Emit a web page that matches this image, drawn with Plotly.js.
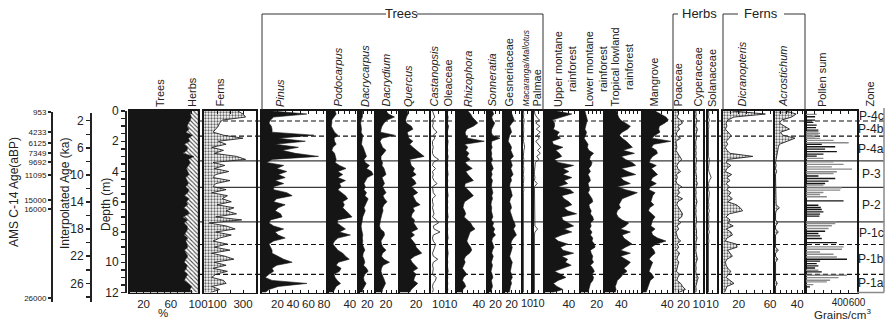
<!DOCTYPE html>
<html>
<head>
<meta charset="utf-8">
<script src="https://cdn.plot.ly/plotly-3.0.1.min.js"></script>
<style>
  html, body { margin: 0; padding: 0; background: #fff; }
  #chart { width: 887px; height: 322px; }
</style>
</head>
<body>
<div id="chart"></div>
<script>
// Sample depths (m) shared by all percentage curves
const depth = [0,0.2,0.4,0.6,0.8,1,1.2,1.4,1.6,1.8,2,2.2,2.4,2.6,2.8,3,3.2,3.4,3.6,3.8,4,4.2,4.4,4.6,4.8,5,5.2,5.4,5.6,5.8,6,6.2,6.4,6.6,6.8,7,7.2,7.4,7.6,7.8,8,8.2,8.4,8.6,8.8,9,9.2,9.4,9.6,9.8,10,10.2,10.4,10.6,10.8,11,11.2,11.4,11.6,11.8,12];

// Pollen groups (%)
const trees = [90,89,90,89,86,84,87,82,92,86,88,80,85,84,78,94,86,89,86,83,85,87,82,84,86,82,87,85,80,87,83,85,79,85,87,78,85,80,84,85,83,80,85,82,84,85,80,83,85,82,80,84,83,80,85,82,80,86,91,88,90];
const herbs = [10,11,10,11,14,16,13,18,8,14,12,20,15,16,22,6,14,11,14,17,15,13,18,16,14,18,13,15,20,13,17,15,21,15,13,22,15,20,16,15,17,20,15,18,16,15,20,17,15,18,20,16,17,20,15,18,20,14,9,12,10];
const ferns = [260,300,320,140,120,110,90,70,150,300,110,170,60,150,80,250,320,70,160,80,190,90,70,200,90,70,170,60,180,140,210,100,230,170,250,90,290,40,170,240,90,210,120,70,180,80,200,60,160,230,80,170,70,180,90,60,150,170,60,120,50];

// Trees
const pinus = [13,58,15,11,9,12,13,13,67,21,56,17,47,26,43,73,13,6,28,19,32,21,30,17,28,15,15,32,39,19,15,30,21,17,24,26,11,9,15,28,17,21,30,15,9,11,13,13,21,28,39,19,13,15,9,4,13,58,21,9,4];
const podocarpus = [13,15,11,7,7,6,9,12,18,11,12,15,9,7,12,13,15,13,21,33,18,27,18,32,21,24,18,25,32,36,27,30,27,33,39,44,18,17,24,32,21,41,18,12,9,13,18,27,32,39,19,15,24,21,11,13,17,23,15,12,9];
const dacrycarpus = [9,9,8,5,4,5,6,5,9,8,7,6,10,13,16,18,12,15,25,18,30,34,20,15,12,15,12,18,14,22,18,14,12,15,11,9,8,6,5,6,7,9,8,9,8,12,14,10,9,12,14,11,18,22,14,11,12,17,13,9,8];
const dacrydium = [20,25,37,22,16,12,10,9,37,12,8,10,13,20,14,10,10,13,12,16,18,20,12,15,17,13,16,20,14,17,22,16,13,14,12,10,9,8,7,9,16,17,13,10,11,14,20,13,11,16,27,14,11,10,12,15,17,19,16,13,12];
const quercus = [9,10,8,7,8,14,16,9,10,11,16,12,16,20,25,30,12,13,14,18,16,20,14,18,20,14,18,22,16,18,20,25,16,18,15,14,18,17,19,22,14,18,13,16,19,20,24,27,18,13,15,18,22,16,20,18,17,22,18,14,12];
const castanopsis = [2,3,5,2,3,2,4,8,3,5,2,2,3,2,2,4,10,3,2,6,2,3,2,4,8,2,2,3,6,2,2,3,2,3,4,2,7,10,3,4,12,3,2,3,6,5,3,2,3,9,3,2,3,2,2,7,6,3,2,3,2];
const oleaceae = [2,1,3,2,1,4,2,1,2,1,3,2,1,2,1,3,2,1,2,1,2,3,1,2,1,2,1,2,3,1,2,1,2,1,2,3,1,2,1,2,1,2,3,1,2,1,2,3,2,1,2,1,2,3,1,2,1,2,1,2,1];
const rhizophora = [20,25,28,33,38,30,18,15,16,20,50,14,20,16,22,18,24,15,20,28,16,20,26,30,15,14,20,26,30,22,14,12,11,14,16,13,20,25,28,33,24,22,20,18,21,25,27,23,16,13,15,13,10,14,18,12,10,14,16,11,9];
const sonneratia = [12,15,10,12,18,14,10,9,12,32,10,9,11,8,10,9,12,8,10,14,9,11,8,12,10,9,11,13,10,12,9,8,10,9,11,13,9,15,12,18,14,20,12,10,13,16,12,10,14,11,9,12,10,8,11,13,9,10,12,9,8];
const gesneriaceae = [18,22,24,27,20,15,18,20,15,12,11,16,20,18,22,25,17,20,22,18,20,24,18,20,16,15,18,20,22,17,15,18,20,16,18,22,24,28,30,25,28,33,25,20,18,22,20,17,15,18,22,20,18,17,20,22,18,20,17,15,14];
const macaranga = [1,2,1,3,2,1,2,1,1,2,1,3,4,2,1,1,2,1,1,2,1,1,2,1,1,1,2,1,1,2,1,1,1,2,1,1,1,2,1,1,2,1,1,1,2,1,1,1,2,1,1,1,2,1,1,1,2,1,1,1,1];
const palmae = [1,2,6,12,4,13,5,14,6,12,4,10,15,8,14,6,11,3,2,1,1,1,2,1,7,1,1,1,1,2,1,1,1,1,1,1,1,1,2,8,2,1,1,1,1,1,1,1,1,1,1,1,1,1,1,1,1,1,1,1,1];

// Ecological groupings
const upperMontane = [19,45,28,12,16,16,14,24,20,26,12,14,30,18,24,28,16,22,48,30,40,30,45,32,38,22,42,48,28,32,40,45,32,38,53,28,30,38,48,32,45,28,16,22,38,26,30,48,28,38,34,44,28,16,26,35,22,14,20,30,12];
const lowerMontane = [5,6,7,8,7,6,5,7,6,4,7,9,8,10,16,12,11,14,13,10,12,9,11,12,9,10,11,9,12,14,15,10,11,13,12,15,16,12,13,11,14,12,15,14,17,18,12,13,15,14,16,12,15,17,14,16,15,12,11,10,9];
const tropicalLowland = [28,30,33,38,50,62,55,42,35,42,52,60,67,44,72,40,50,66,75,40,55,75,38,46,62,30,50,79,60,42,38,34,38,30,28,32,42,58,50,38,62,42,46,55,66,50,38,62,38,50,62,55,46,54,44,38,30,28,25,27,25];
const mangrove = [20,30,38,42,36,27,26,28,20,15,46,18,14,22,24,16,12,10,22,14,19,24,16,13,22,12,10,20,16,14,13,18,11,9,14,20,16,14,13,20,14,16,24,38,22,14,18,20,14,10,16,14,12,10,15,18,12,10,8,6,5];

// Herbs
const poaceae = [8,10,6,14,18,8,12,6,5,14,4,5,6,4,8,12,16,10,6,8,14,5,7,4,6,16,8,12,6,18,8,6,10,14,18,16,8,14,6,10,4,6,8,14,6,10,5,12,8,6,10,8,6,5,12,8,6,14,18,24,10];
const cyperaceae = [2,3,2,5,3,2,6,3,2,4,2,2,3,2,3,2,4,3,2,3,2,3,4,3,6,3,2,3,2,3,5,3,2,3,2,3,4,3,2,3,4,3,5,3,2,3,2,3,4,6,3,2,3,2,3,8,6,3,2,3,2];
const solanaceae = [1,2,1,3,1,2,1,1,2,1,1,2,1,1,2,1,3,2,1,1,2,4,7,3,1,2,1,3,2,1,1,2,1,3,1,2,1,1,2,1,3,1,1,2,1,1,2,1,1,1,2,1,1,1,2,1,1,1,1,1,1];

// Ferns
const dicranopteris = [12,54,14,6,4,5,3,6,10,8,4,6,3,5,9,38,6,4,10,5,3,11,5,9,4,8,5,10,7,12,6,17,22,25,8,4,9,6,13,4,10,12,5,3,17,18,6,9,12,5,3,4,6,10,7,4,9,14,5,3,2];
const acrostichum = [20,38,30,12,8,18,26,10,14,36,20,8,6,5,4,3,1,1,2,1,3,1,1,1,1,1,1,1,1,2,1,2,8,2,1,1,1,5,1,1,6,1,1,1,1,1,6,1,1,5,1,1,1,1,1,1,1,4,1,1,1];

// Pollen concentration (grains/cm3), two sample sets
const sumDepthLight = [0.22,1.37,1.48,1.59,1.70,1.81,1.94,2.10,3.13,3.36,3.53,3.69,3.84,4.02,4.13,4.90,5.08,5.23,5.39,5.52,5.67,7.33,7.44,7.59,7.77,8.98,9.14,9.32,9.47,9.65,10.53,10.86,11.02,11.19,11.30,11.48];
const sumLight = [126,146,166,146,107,166,324,502,205,324,442,304,541,363,324,205,423,403,205,166,245,363,344,304,265,442,423,166,324,363,146,482,383,284,245,87];
const sumDepthDark = [0.38,0.60,0.75,0.93,1.10,1.26,2.21,2.36,2.52,2.69,2.85,2.98,4.30,4.46,4.64,4.79,5.94,6.23,6.38,6.51,6.67,6.82,6.95,7.95,8.10,8.26,8.43,8.70,9.80,9.93,10.09,10.24,10.38,10.64,11.63];
const sumDark = [107,107,87,126,118,146,186,344,225,363,205,126,146,344,265,225,442,146,174,186,205,166,158,225,146,166,186,363,482,166,126,146,107,186,47];

// Zones
const zoneNames = ['P-4c','P-4b','P-4a','P-3','P-2','P-1c','P-1b','P-1a'];
const zoneBounds = [0.66,1.66,3.3,5.05,7.33,8.83,10.8];
const zoneDashed = [true,true,false,false,false,true,true];

// Chronology
const amsAge = ['953','4233','6125','7349','9692','11095','15000','16000','26000'];
const amsDepth = [0,1.33,2.08,2.72,3.34,4.18,5.84,6.46,12.33];
const ageTicks = [2,4,6,8,10,12,14,16,18,20,22,24,26,28];
const ageLabels = ['2','','6','','10','','14','','18','','22','','26',''];
const depthTicks = [0,0.5,1,1.5,2,2.5,3,3.5,4,4.5,5,5.5,6,6.5,7,7.5,8,8.5,9,9.5,10,10.5,11,11.5,12];
const depthLabels = ['0','','','','2','','','','4','','','','6','','','','8','','','','10','','','','12'];

// ---------------------------------------------------------------
const W = 887, H = 322;
const px = x => x / W;
const py = y => 1 - y / H;
const TOP = 111, BOT = 292.5;
const FONT = 'Liberation Sans, Arial, Helvetica, sans-serif';
const INK = '#151515';

// Column geometry: pixel extent, axis maximum, tick step, labelled ticks, label size, series
const panels = [
  {x0:130, x1:198, max:100, step:10, lab:[20,60,100], series:[[trees,'solid'],[herbs,'hatch']]},
  {x0:204, x1:256, max:400, step:100, lab:[100,300], series:[[ferns,'stipple']]},
  {x0:262, x1:327, max:84, step:10, lab:[20,40,60,80], series:[[pinus,'solid']]},
  {x0:328, x1:358, max:55, step:10, lab:[40], series:[[podocarpus,'solid']]},
  {x0:359, x1:374, max:36, step:10, lab:[20], series:[[dacrycarpus,'solid']]},
  {x0:376, x1:398, max:44, step:10, lab:[20], series:[[dacrydium,'solid']]},
  {x0:400, x1:429, max:36, step:10, lab:[20], series:[[quercus,'solid']]},
  {x0:431, x1:446, max:20, step:10, lab:[10], series:[[castanopsis,'outline']]},
  {x0:447, x1:455, max:20, step:10, lab:[10], series:[[oleaceae,'solid']]},
  {x0:457, x1:487, max:55, step:10, lab:[40], series:[[rhizophora,'solid']]},
  {x0:488, x1:503, max:40, step:10, lab:[20], series:[[sonneratia,'solid']]},
  {x0:504, x1:521, max:45, step:10, lab:[20], series:[[gesneriaceae,'solid']]},
  {x0:523, x1:531, max:20, step:10, lab:[10], fs:11, series:[[macaranga,'outline']]},
  {x0:534, x1:543, max:20, step:10, lab:[10], fs:11, series:[[palmae,'outline']]},
  {x0:545, x1:579, max:57, step:10, lab:[40], series:[[upperMontane,'solid']]},
  {x0:581, x1:603, max:28, step:5, lab:[20], series:[[lowerMontane,'solid']]},
  {x0:605, x1:641, max:88, step:10, lab:[40], series:[[tropicalLowland,'solid']]},
  {x0:643, x1:672, max:48, step:10, lab:[40], series:[[mangrove,'solid']]},
  {x0:674, x1:693, max:40, step:10, lab:[20], series:[[poaceae,'stipple']]},
  {x0:695, x1:703, max:20, step:10, lab:[10], series:[[cyperaceae,'stipple']]},
  {x0:708, x1:717, max:20, step:10, lab:[10], series:[[solanaceae,'outline']]},
  {x0:723, x1:774, max:65, step:10, lab:[20,60], series:[[dicranopteris,'stipple']]},
  {x0:775, x1:805, max:54, step:10, lab:[40], series:[[acrostichum,'stipple']]},
  {x0:806, x1:857, max:600, step:100, lab:[400,600], fs:10, series:[[null,'bars']]}
];

// Column headings: text, centre x, italic, font size
const headers = [
  ['Trees',160,false],['Herbs',192,false],['Ferns',220,false],
  ['Pinus',280,true],['Podocarpus',338,true],['Dacrycarpus',365,true],['Dacrydium',386,true],
  ['Quercus',408,true],['Castanopsis',434,true],['Oleaceae',448,false],['Rhizophora',468,true],
  ['Sonneratia',492,true],['Gesneriaceae',509,false],['Macaranga/Mallotus',526,true,8.5],['Palmae',537,false],
  ['Upper montane<br>rainforest',565,false],['Lower montane<br>rainforest',596,false],
  ['Tropical lowland<br>rainforest',622,false],['Mangrove',654,false],['Poaceae',678,false],
  ['Cyperaceae',698,false],['Solanaceae',712,false],['Dicranopteris',742,true],['Acrostichum',783,true],
  ['Pollen sum',822,false],['Zone',870,false]
];

const traces = [];
const layout = {
  width: W, height: H,
  margin: {l:0, r:0, t:0, b:0},
  paper_bgcolor: '#fff',
  plot_bgcolor: 'rgba(0,0,0,0)',
  showlegend: false,
  barmode: 'overlay',
  font: {family: FONT, size: 12, color: '#222'},
  shapes: [],
  annotations: []
};

const yDomain = [py(BOT), py(TOP)];

panels.forEach((p, i) => {
  const k = i + 1;
  const xr = k === 1 ? 'x' : 'x' + k;
  const yr = k === 1 ? 'y' : 'y' + k;
  const tickvals = [];
  for (let v = 0; v <= p.max + 1e-9; v += p.step) tickvals.push(v);
  const ticktext = tickvals.map(v => p.lab.includes(v) ? String(v) : '');

  layout[k === 1 ? 'xaxis' : 'xaxis' + k] = {
    domain: [px(p.x0), px(p.x1)], range: [0, p.max], anchor: yr,
    showline: true, linewidth: 1.6, linecolor: INK, mirror: 'ticks',
    ticks: 'inside', ticklen: 3, tickwidth: 1, tickcolor: INK,
    tickvals: tickvals, ticktext: ticktext, tickangle: 0,
    tickfont: {family: FONT, size: p.fs || 11.5, color: '#222'},
    showgrid: false, zeroline: false, fixedrange: true
  };
  layout[k === 1 ? 'yaxis' : 'yaxis' + k] = {
    domain: yDomain, range: [12, 0], anchor: xr,
    showline: true, linewidth: 2, linecolor: INK, mirror: true,
    ticks: '', showticklabels: false, showgrid: false, zeroline: false, fixedrange: true
  };

  let prev = null;
  p.series.forEach(([vals, style]) => {
    const base = {type: 'scatter', mode: 'lines', y: depth, xaxis: xr, yaxis: yr,
                  hoverinfo: 'skip', line: {color: INK, width: 0.6}};
    if (style === 'solid') {
      traces.push(Object.assign(base, {x: vals, fill: 'tozerox', fillcolor: INK}));
    } else if (style === 'hatch') {
      // stacked on the previous series of the column
      const edge = vals.map((v, j) => v + prev[j]);
      traces.push(Object.assign(base, {x: edge, fill: 'tonextx', fillcolor: '#fff',
        line: {color: '#555', width: 0.5},
        fillpattern: {shape: '\\', fgcolor: '#444', bgcolor: '#fff', size: 3, solidity: 0.35}}));
    } else if (style === 'stipple') {
      traces.push(Object.assign(base, {x: vals, fill: 'tozerox', fillcolor: '#fff',
        line: {color: '#222', width: 0.9},
        fillpattern: {shape: '.', fgcolor: '#666', bgcolor: '#fff', size: 3, solidity: 0.45}}));
    } else if (style === 'outline') {
      traces.push(Object.assign(base, {x: vals, line: {color: '#333', width: 0.9}}));
    } else if (style === 'bars') {
      traces.push({type: 'bar', orientation: 'h', x: sumLight, y: sumDepthLight, width: 0.09,
        marker: {color: '#8a8a8a', line: {width: 0}}, xaxis: xr, yaxis: yr, hoverinfo: 'skip'});
      traces.push({type: 'bar', orientation: 'h', x: sumDark, y: sumDepthDark, width: 0.09,
        marker: {color: INK, line: {width: 0}}, xaxis: xr, yaxis: yr, hoverinfo: 'skip'});
    }
    prev = vals;
  });
});

// Left-hand scales: depth, interpolated age, AMS 14C ages
const leftAxes = [
  {id: 26, x: 127, dom: [BOT, TOP], range: [12, 0], tv: depthTicks, tt: depthLabels, size: 12, len: 4, tw: 1.5},
  {id: 27, x: 92, dom: [302, 113], range: [28.76, 0.86], tv: ageTicks, tt: ageLabels, size: 12, len: 4, tw: 1.5},
  {id: 28, x: 53, dom: [302, 112], range: [12.6, 0], tv: amsDepth, tt: amsAge, size: 8, len: 3, tw: 2}
];
leftAxes.forEach(a => {
  layout['xaxis' + a.id] = {domain: [px(a.x), px(a.x + 1)], visible: false, anchor: 'y' + a.id, range: [0, 1], fixedrange: true};
  layout['yaxis' + a.id] = {
    domain: [py(a.dom[0]), py(a.dom[1])], range: a.range, anchor: 'x' + a.id, side: 'left',
    showline: true, linewidth: 2, linecolor: '#222',
    ticks: 'outside', ticklen: a.len, tickwidth: a.tw, tickcolor: '#222',
    tickvals: a.tv, ticktext: a.tt, tickfont: {family: FONT, size: a.size, color: '#222'},
    showgrid: false, zeroline: false, fixedrange: true
  };
  traces.push({type: 'scatter', mode: 'lines', x: [null], y: [null], xaxis: 'x' + a.id, yaxis: 'y' + a.id, hoverinfo: 'skip'});
});

const rotTitle = (text, x, y, size) => layout.annotations.push({
  text: text, x: px(x), y: py(y), xref: 'paper', yref: 'paper', textangle: -90,
  showarrow: false, xanchor: 'center', yanchor: 'middle', font: {family: FONT, size: size, color: '#222'}
});
rotTitle('AMS C-14 Age(aBP)', 14, 192, 12);
rotTitle('Interpolated Age (ka)', 65, 194, 12);
rotTitle('Depth (m)', 106, 205, 12);

// Column headings
headers.forEach(([text, x, ital, size]) => {
  layout.annotations.push({
    text: ital ? '<i>' + text + '</i>' : text,
    x: px(x), y: py(108), xref: 'paper', yref: 'paper', textangle: -90,
    showarrow: false, xanchor: 'center', yanchor: 'bottom', align: 'center',
    font: {family: FONT, size: size || 11, color: '#222'}, borderpad: 0
  });
});

// Group brackets
const seg = (x0, y0, x1, y1, color, width) => layout.shapes.push({
  type: 'line', xref: 'paper', yref: 'paper', x0: px(x0), y0: py(y0), x1: px(x1), y1: py(y1),
  line: {color: color || '#333', width: width || 1}
});
seg(262, 14, 386, 14); seg(417, 14, 543, 14); seg(262, 14, 262, 110); seg(543, 14, 543, 110);
seg(673, 14, 678, 14); seg(673, 14, 673, 110);
seg(723, 14, 738, 14); seg(784, 14, 805, 14); seg(723, 14, 723, 110); seg(805, 14, 805, 110);
const groupLabel = (text, x) => layout.annotations.push({
  text: text, x: px(x), y: py(14), xref: 'paper', yref: 'paper', showarrow: false,
  xanchor: 'center', yanchor: 'middle', font: {family: FONT, size: 13, color: '#222'}
});
groupLabel('Trees', 401); groupLabel('Herbs', 699); groupLabel('Ferns', 761);

// Zone boundaries across the diagram
zoneBounds.forEach((b, i) => {
  layout.shapes.push({
    type: 'line', layer: 'below', xref: 'paper', yref: 'y', x0: px(199), x1: px(884), y0: b, y1: b,
    line: {color: zoneDashed[i] ? '#111' : '#3a3a3a', width: zoneDashed[i] ? 1.1 : 1.2, dash: zoneDashed[i] ? '5px,3px' : 'solid'}
  });
});
// Zone column frame
seg(884, TOP - 3, 884, BOT, '#8a8a8a', 1.5);
seg(857, BOT, 884, BOT, '#8a8a8a', 1.5);

// Zone names centred in each interval
const edges = [0].concat(zoneBounds, [12]);
zoneNames.forEach((z, i) => {
  layout.annotations.push({
    text: z, x: px(871), y: (edges[i] + edges[i + 1]) / 2, xref: 'paper', yref: 'y',
    showarrow: false, xanchor: 'center', yanchor: 'middle', font: {family: FONT, size: 12, color: '#222'}
  });
});

// Axis units
layout.annotations.push({text: '%', x: px(163), y: py(313), xref: 'paper', yref: 'paper', showarrow: false,
  xanchor: 'center', yanchor: 'middle', font: {family: FONT, size: 11.5, color: '#222'}});
layout.annotations.push({text: 'Grains/cm<sup>3</sup>', x: px(842), y: py(314), xref: 'paper', yref: 'paper', showarrow: false,
  xanchor: 'center', yanchor: 'middle', font: {family: FONT, size: 11.5, color: '#222'}});

Plotly.newPlot('chart', traces, layout, {staticPlot: true, displayModeBar: false});
</script>
</body>
</html>
